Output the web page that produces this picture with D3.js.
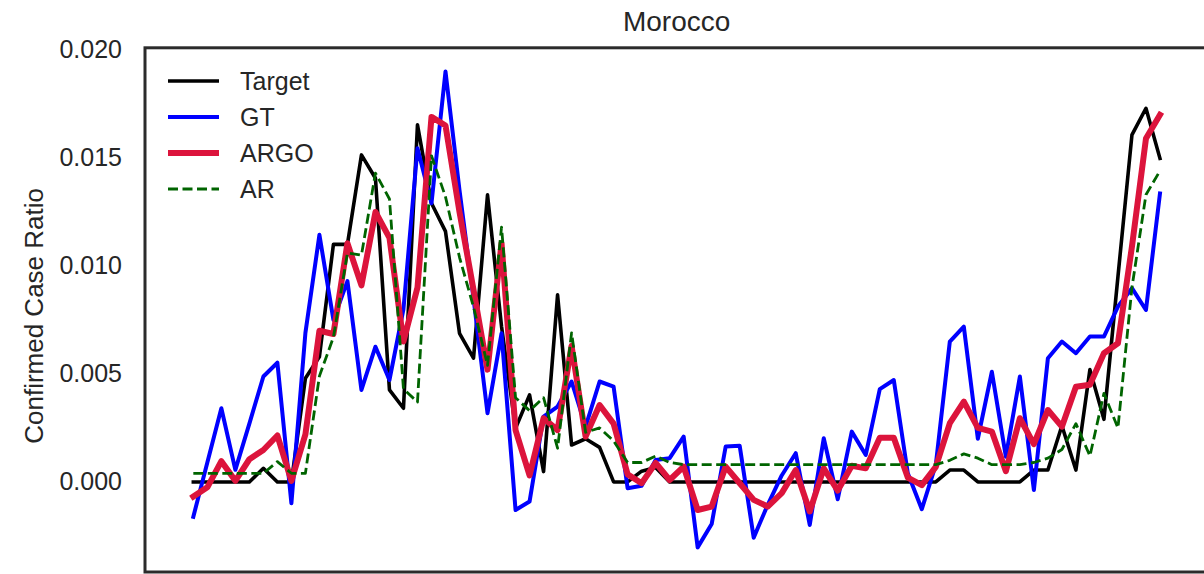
<!DOCTYPE html>
<html>
<head>
<meta charset="utf-8">
<script src="https://cdn.jsdelivr.net/npm/d3@7/dist/d3.min.js"></script>
<style>
  html, body { margin: 0; padding: 0; background: #fff; }
  svg { display: block; }
  text { font-family: "Liberation Sans", Arial, Helvetica, sans-serif; fill: #262626; }
</style>
</head>
<body>
<svg id="chart" width="1204" height="574"></svg>
<script>
// Weekly confirmed-case ratio for Morocco: observed target and three estimates
const title = "Morocco";
const yLabel = "Confirmed Case Ratio";
const yTicks = [0, 0.005, 0.010, 0.015, 0.020];

const target = [0, 0, 0, 0, 0, 0.00063, 0, 0, 0.0048, 0.0058,
  0.0110, 0.0110, 0.01514, 0.01406, 0.00426, 0.00341, 0.01653, 0.0129, 0.0116, 0.00688,
  0.00573, 0.01329, 0.0072, 0.00248, 0.00403, 0.00048, 0.00866, 0.00171, 0.0020, 0.0016,
  0, 0, 0.0005, 0.00067, 0, 0, 0, 0, 0, 0,
  0, 0, 0, 0, 0, 0, 0, 0, 0, 0,
  0, 0, 0, 0, 0.00055, 0.00055, 0, 0, 0, 0,
  0.00055, 0.00055, 0.0026, 0.00055, 0.0052, 0.0029, 0.0095, 0.01607, 0.0173, 0.01498];

const gt = [-0.00161, 0.0009, 0.00341, 0.00056, 0.0027, 0.00488, 0.00552, -0.00099, 0.0069, 0.01144,
  0.0075, 0.0093, 0.00426, 0.00626, 0.00472, 0.0080, 0.01545, 0.0129, 0.0190, 0.0135,
  0.0085, 0.00318, 0.00688, -0.0013, -0.00091, 0.00302, 0.00349, 0.00465, 0.00256, 0.00465,
  0.00441, -0.00029, -0.00018, 0.00102, 0.0011, 0.0021, -0.00303, -0.00195, 0.00164, 0.00167,
  -0.00258, -0.00106, 0.0003, 0.00133, -0.00199, 0.00202, -0.0008, 0.00233, 0.00125, 0.0043,
  0.00472, 0.0004, -0.00126, 0.0008, 0.0065, 0.00719, 0.0020, 0.0051, 0.00117, 0.00488,
  -0.00037, 0.00573, 0.0065, 0.00596, 0.00673, 0.00673, 0.00812, 0.00897, 0.00796, 0.01336];

const argo = [-0.00068, -0.00025, 0.00096, 0.00005, 0.00105, 0.00148, 0.00215, 0.00005, 0.0022, 0.0070,
  0.00685, 0.01105, 0.0091, 0.0125, 0.0113, 0.0065, 0.0090, 0.0169, 0.0165, 0.0125,
  0.0089, 0.0052, 0.01105, 0.0024, 0.0003, 0.00295, 0.0024, 0.0063, 0.0021, 0.00356,
  0.0027, 0.00035, -0.00006, 0.00088, 0.00009, 0.00071, -0.0013, -0.00114, 0.00071, -0.00006,
  -0.00083, -0.00114, -0.00052, 0.00055, -0.00137, 0.00063, -0.0004, 0.00075, 0.00063, 0.00205,
  0.00205, 0.0002, -0.00015, 0.0007, 0.00272, 0.00372, 0.0025, 0.00233, 0.0005, 0.00295,
  0.00175, 0.00333, 0.00256, 0.00441, 0.0045, 0.00596, 0.00642, 0.0109, 0.0159, 0.0170];

const ar = [0.0004, 0.0004, 0.0004, 0.0004, 0.0004, 0.0004, 0.00094, 0.0004, 0.0004, 0.0049,
  0.0067, 0.0106, 0.0105, 0.0143, 0.0131, 0.0043, 0.0037, 0.0151, 0.0132, 0.0104,
  0.0081, 0.0054, 0.0118, 0.0039, 0.0033, 0.0039, 0.00156, 0.0069, 0.0023, 0.0025,
  0.0019, 0.0009, 0.0009, 0.0012, 0.0009, 0.0008, 0.0008, 0.0008, 0.0008, 0.0008,
  0.0008, 0.0008, 0.0008, 0.0008, 0.0008, 0.0008, 0.0008, 0.0008, 0.0008, 0.0008,
  0.0008, 0.0008, 0.0008, 0.0008, 0.001, 0.0013, 0.0011, 0.0008, 0.0008, 0.0008,
  0.0009, 0.0011, 0.0015, 0.0027, 0.0012, 0.0041, 0.0025, 0.0090, 0.0133, 0.0144];

const seriesNames = ["Target", "GT", "ARGO", "AR"];

// Series styling
const styles = {
  Target: { color: "#000000", width: 3.6, dash: null },
  GT:     { color: "#0000ff", width: 4.0, dash: null },
  ARGO:   { color: "#dc143c", width: 6.0, dash: null },
  AR:     { color: "#006400", width: 2.8, dash: "10,4.5" }
};
const seriesData = { Target: target, GT: gt, ARGO: argo, AR: ar };

const svg = d3.select("#chart");
const plot = { left: 145, right: 1208.3, top: 47.8, bottom: 572 };

const n = target.length;
const pad = (n - 1) * 0.05;
const x = d3.scaleLinear().domain([-pad, n - 1 + pad]).range([plot.left, plot.right]);
const y = d3.scaleLinear().domain([-0.00417, 0.0201]).range([plot.bottom, plot.top]);

// Clip to the axes frame
svg.append("defs").append("clipPath").attr("id", "plotClip")
  .append("rect")
  .attr("x", plot.left).attr("y", plot.top)
  .attr("width", plot.right - plot.left).attr("height", plot.bottom - plot.top);

const line = d3.line().x((d, i) => x(i)).y(d => y(d));

const lines = svg.append("g").attr("clip-path", "url(#plotClip)");
seriesNames.forEach(name => {
  const s = styles[name];
  lines.append("path")
    .datum(seriesData[name])
    .attr("d", line)
    .attr("fill", "none")
    .attr("stroke", s.color)
    .attr("stroke-width", s.width)
    .attr("stroke-linejoin", "round")
    .attr("stroke-linecap", s.dash ? "butt" : "square")
    .attr("stroke-dasharray", s.dash);
});

// Axes frame
svg.append("rect")
  .attr("x", plot.left).attr("y", plot.top)
  .attr("width", plot.right - plot.left).attr("height", plot.bottom - plot.top)
  .attr("fill", "none")
  .attr("stroke", "#2b2b2b")
  .attr("stroke-width", 3);

// Y axis labels (no tick marks)
const yAxis = d3.axisLeft(y)
  .tickValues(yTicks)
  .tickFormat(d3.format(".3f"))
  .tickSize(0)
  .tickPadding(23);
const gy = svg.append("g").attr("transform", `translate(${plot.left},0)`).call(yAxis);
gy.select(".domain").remove();
gy.selectAll("text")
  .attr("font-size", 25)
  .attr("fill", "#262626")
  .style("font-family", "'Liberation Sans', Arial, sans-serif");

// Y axis title
svg.append("text")
  .attr("transform", `translate(43,${(plot.top + plot.bottom) / 2 + 6}) rotate(-90)`)
  .attr("text-anchor", "middle")
  .attr("font-size", 26)
  .text(yLabel);

// Chart title
svg.append("text")
  .attr("x", (plot.left + plot.right) / 2)
  .attr("y", 31)
  .attr("text-anchor", "middle")
  .attr("font-size", 28)
  .text(title);

// Legend
const legend = svg.append("g");
seriesNames.forEach((name, i) => {
  const s = styles[name];
  const ly = 81 + i * 36;
  legend.append("line")
    .attr("x1", 168).attr("x2", 219)
    .attr("y1", ly).attr("y2", ly)
    .attr("stroke", s.color)
    .attr("stroke-width", s.width)
    .attr("stroke-dasharray", s.dash);
  legend.append("text")
    .attr("x", 240).attr("y", ly)
    .attr("dy", "0.35em")
    .attr("font-size", 25)
    .text(name);
});
</script>
</body>
</html>
